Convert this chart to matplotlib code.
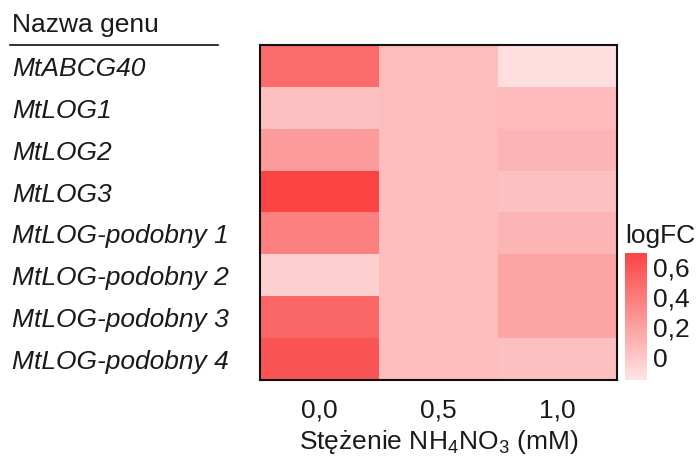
import numpy as np
import matplotlib
matplotlib.use('Agg')
import matplotlib.pyplot as plt
from matplotlib.colors import LinearSegmentedColormap

plt.rcParams['font.family'] = ['Liberation Sans', 'DejaVu Sans']
plt.rcParams['mathtext.fontset'] = 'custom'
plt.rcParams['mathtext.rm'] = 'Liberation Sans'
plt.rcParams['mathtext.it'] = 'Liberation Sans:italic'

genes = ['MtABCG40', 'MtLOG1', 'MtLOG2', 'MtLOG3',
         'MtLOG-podobny 1', 'MtLOG-podobny 2', 'MtLOG-podobny 3', 'MtLOG-podobny 4']
conc = ['0,0', '0,5', '1,0']
# logFC per gene (rows) for each concentration (columns)
logfc = np.array([
    [0.48, 0.055, -0.12],
    [0.035, 0.055, 0.06],
    [0.23, 0.055, 0.10],
    [0.69, 0.055, 0.035],
    [0.375, 0.055, 0.10],
    [-0.045, 0.055, 0.185],
    [0.50, 0.055, 0.185],
    [0.60, 0.055, 0.035],
])
cb_ticks = [0, 0.2, 0.4, 0.6]
cb_labels = ['0', '0,2', '0,4', '0,6']

txt = '#1a1a1a'
fs = 19
cmap = LinearSegmentedColormap.from_list('pr', ['#FFE4E4', '#FA4444'])

fig = plt.figure(figsize=(6.98, 4.57), dpi=100)
W, H = 698., 457.
ax = fig.add_axes([260/W, 1-380/H, 357/W, 335/H])
im = ax.imshow(logfc, cmap=cmap, vmin=-0.15, vmax=0.69, aspect='auto',
               interpolation='nearest')
ax.set_yticks([])
ax.set_xticks(range(len(conc)))
ax.set_xticklabels(conc, fontsize=fs, color=txt)
ax.tick_params(axis='x', length=0, pad=13)
for s in ax.spines.values():
    s.set_linewidth(1.5)
    s.set_color('#111111')
ax.set_xlabel(r'Stężenie NH$_4$NO$_3$ (mM)', fontsize=fs, color=txt, labelpad=4)

# gene names on the left
for i, g in enumerate(genes):
    y = 1 - (i + 0.5) / len(genes) - 3/335
    ax.text(-248/357, y, g, transform=ax.transAxes, fontsize=fs, style='italic',
            color=txt, ha='left', va='center')
fig.text(12/W, 1-25/H, 'Nazwa genu', fontsize=fs, color=txt, ha='left', va='center')
fig.add_artist(plt.Line2D([10/W, 218/W], [1-45/H, 1-45/H], color='#111111', lw=1.2))

# colorbar
cax = fig.add_axes([625/W, 1-380/H, 22/W, 127/H])
cb = fig.colorbar(im, cax=cax, ticks=cb_ticks)
cb.outline.set_visible(False)
cb.ax.set_yticklabels(cb_labels, fontsize=fs, color=txt)
cb.ax.tick_params(length=0, pad=4)
fig.text(625/W, 1-236/H, 'logFC', fontsize=fs, color=txt, ha='left', va='center')

fig.savefig('out.png', dpi=100)
